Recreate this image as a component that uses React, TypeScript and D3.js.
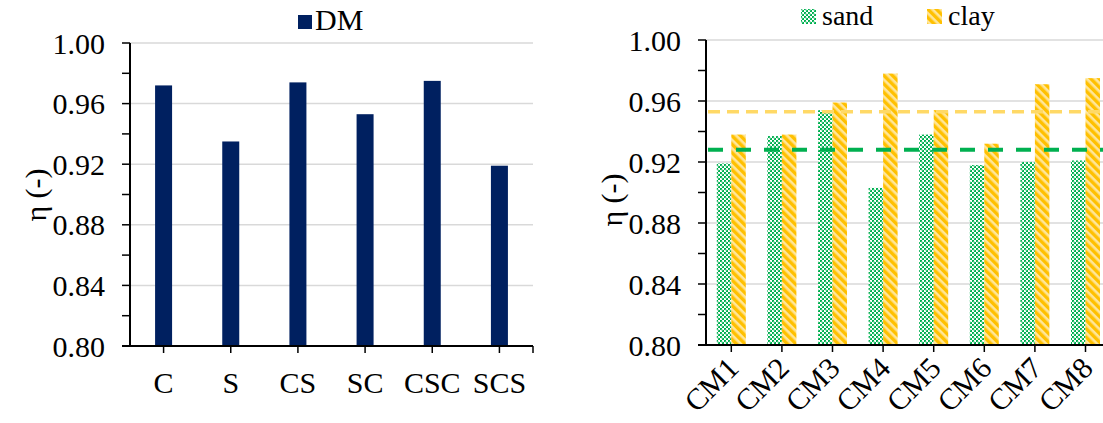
import React from "react";
import * as d3 from "d3";

const dmCategories = ["C", "S", "CS", "SC", "CSC", "SCS"];
const dmValues = [0.972, 0.935, 0.974, 0.953, 0.975, 0.919];

const cmCategories = ["CM1", "CM2", "CM3", "CM4", "CM5", "CM6", "CM7", "CM8"];
const sandValues = [0.919, 0.937, 0.954, 0.903, 0.938, 0.918, 0.92, 0.921];
const clayValues = [0.938, 0.938, 0.959, 0.978, 0.954, 0.932, 0.971, 0.975];
const sandMean = 0.928;
const clayMean = 0.953;

const yMajorTicks = [0.8, 0.84, 0.88, 0.92, 0.96, 1.0];
const yMinorTicks = [0.8, 0.82, 0.84, 0.86, 0.88, 0.9, 0.92, 0.94, 0.96, 0.98, 1.0];

const FONT = "Liberation Serif, Times New Roman, serif";
const FS = 30;

export default function App() {
  // Left panel
  const xL = d3.scaleBand<string>().domain(dmCategories).range([130, 533]);
  const yL = d3.scaleLinear().domain([0.8, 1.0]).range([346, 43]);
  // Right panel
  const xR = d3.scaleBand<string>().domain(cmCategories).range([706, 706 + 8 * 50.6]);
  const yR = d3.scaleLinear().domain([0.8, 1.0]).range([345, 40]);

  const barW = 17;
  const subW = 14.5;

  return (
    <svg
      width={1103}
      height={423}
      style={{ position: "absolute", left: 0, top: 0, background: "#fff", fontFamily: FONT }}
    >
      <defs>
        <pattern id="sandPat" width={4} height={4} patternUnits="userSpaceOnUse">
          <rect x={0} y={0} width={4} height={4} fill="#ffffff" />
          <rect x={0} y={0} width={2} height={2} fill="#00b050" />
          <rect x={2} y={2} width={2} height={2} fill="#00b050" />
          <rect x={1} y={1} width={2} height={2} fill="#7fd8a7" opacity={0.5} />
        </pattern>
        <pattern
          id="clayPat"
          width={6}
          height={6}
          patternUnits="userSpaceOnUse"
          patternTransform="rotate(-45)"
        >
          <rect x={0} y={0} width={6} height={6} fill="#ffe699" />
          <rect x={0} y={0} width={3.4} height={6} fill="#ffc000" />
        </pattern>
        <clipPath id="clipR">
          <rect x={0} y={0} width={1103} height={423} />
        </clipPath>
      </defs>

      {/* ===== LEFT PANEL ===== */}
      <g>
        {yMajorTicks.slice(1).map((t) => (
          <line
            key={"gl" + t}
            x1={130}
            x2={533}
            y1={yL(t)}
            y2={yL(t)}
            stroke="#d9d9d9"
            strokeWidth={1.5}
          />
        ))}
        {dmValues.map((v, i) => {
          const c = dmCategories[i];
          const cx = (xL(c) as number) + xL.bandwidth() / 2;
          return (
            <rect
              key={c}
              x={cx - barW / 2}
              y={yL(v)}
              width={barW}
              height={yL(0.8) - yL(v)}
              fill="#002060"
            />
          );
        })}
        {/* y axis */}
        <line x1={130} x2={130} y1={yL(1.0)} y2={yL(0.8)} stroke="#000" strokeWidth={2} />
        {yMinorTicks.map((t) => (
          <line key={"tl" + t} x1={122} x2={130} y1={yL(t)} y2={yL(t)} stroke="#000" strokeWidth={1.5} />
        ))}
        {yMajorTicks.map((t) => (
          <text
            key={"yl" + t}
            x={105}
            y={yL(t)}
            textAnchor="end"
            dominantBaseline="central"
            fontSize={FS}
          >
            {t.toFixed(2)}
          </text>
        ))}
        {/* x axis */}
        <line x1={122} x2={533} y1={yL(0.8)} y2={yL(0.8)} stroke="#000" strokeWidth={2} />
        {dmCategories.map((c) => {
          const cx = (xL(c) as number) + xL.bandwidth() / 2;
          return (
            <g key={"xt" + c}>
              <line x1={cx} x2={cx} y1={yL(0.8)} y2={yL(0.8) + 7} stroke="#000" strokeWidth={1.5} />
              <text x={cx} y={393} textAnchor="middle" fontSize={FS}>
                {c}
              </text>
            </g>
          );
        })}
        <line x1={533} x2={533} y1={yL(0.8)} y2={yL(0.8) + 7} stroke="#000" strokeWidth={1.5} />
        <text
          transform={`translate(46,195) rotate(-90)`}
          textAnchor="middle"
          fontSize={FS}
        >
          η (-)
        </text>
        {/* legend */}
        <rect x={298} y={15} width={14} height={14} fill="#002060" />
        <text x={315} y={30} fontSize={FS}>
          DM
        </text>
      </g>

      {/* ===== RIGHT PANEL ===== */}
      <g clipPath="url(#clipR)">
        {yMajorTicks.slice(1).map((t) => (
          <line
            key={"gr" + t}
            x1={706}
            x2={1111}
            y1={yR(t)}
            y2={yR(t)}
            stroke="#d9d9d9"
            strokeWidth={1.5}
          />
        ))}
        {cmCategories.map((c, i) => {
          const cx = (xR(c) as number) + xR.bandwidth() / 2;
          return (
            <g key={"b" + c}>
              <rect
                x={cx - subW}
                y={yR(sandValues[i])}
                width={subW}
                height={yR(0.8) - yR(sandValues[i])}
                fill="url(#sandPat)"
              />
              <rect
                x={cx}
                y={yR(clayValues[i])}
                width={subW}
                height={yR(0.8) - yR(clayValues[i])}
                fill="url(#clayPat)"
              />
            </g>
          );
        })}
        {/* mean lines */}
        <line
          x1={708}
          x2={1111}
          y1={yR(clayMean)}
          y2={yR(clayMean)}
          stroke="#ffd966"
          strokeWidth={3.5}
          strokeDasharray="12 7"
        />
        <line
          x1={708}
          x2={1111}
          y1={yR(sandMean)}
          y2={yR(sandMean)}
          stroke="#00b050"
          strokeWidth={4}
          strokeDasharray="15 13"
        />
        {/* y axis */}
        <line x1={706} x2={706} y1={yR(1.0)} y2={yR(0.8)} stroke="#000" strokeWidth={2} />
        {yMinorTicks.map((t) => (
          <line key={"tr" + t} x1={698} x2={706} y1={yR(t)} y2={yR(t)} stroke="#000" strokeWidth={1.5} />
        ))}
        {yMajorTicks.map((t) => (
          <text
            key={"yr" + t}
            x={681}
            y={yR(t)}
            textAnchor="end"
            dominantBaseline="central"
            fontSize={FS}
          >
            {t.toFixed(2)}
          </text>
        ))}
        {/* x axis */}
        <line x1={698} x2={1111} y1={yR(0.8)} y2={yR(0.8)} stroke="#000" strokeWidth={2} />
        {cmCategories.map((c) => {
          const cx = (xR(c) as number) + xR.bandwidth() / 2;
          return (
            <g key={"xr" + c}>
              <line x1={cx} x2={cx} y1={yR(0.8)} y2={yR(0.8) + 7} stroke="#000" strokeWidth={1.5} />
              <text
                transform={`translate(${cx + 9},${yR(0.8) + 25}) rotate(-45)`}
                textAnchor="end"
                fontSize={FS}
              >
                {c}
              </text>
            </g>
          );
        })}
        <text
          transform={`translate(622,200) rotate(-90)`}
          textAnchor="middle"
          fontSize={FS}
        >
          η (-)
        </text>
        {/* legend */}
        <rect x={801} y={9} width={15} height={15} fill="url(#sandPat)" />
        <text x={822} y={25} fontSize={28}>
          sand
        </text>
        <rect x={927} y={9} width={15} height={15} fill="url(#clayPat)" />
        <text x={948} y={25} fontSize={28}>
          clay
        </text>
      </g>
    </svg>
  );
}
